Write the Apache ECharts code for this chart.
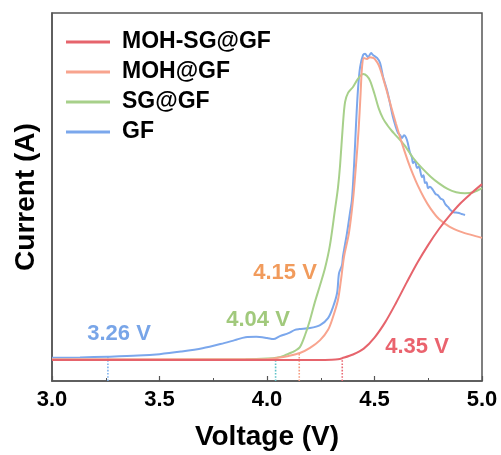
<!DOCTYPE html>
<html>
<head>
<meta charset="utf-8">
<script src="https://cdn.jsdelivr.net/npm/echarts@6/dist/echarts.min.js"></script>
<style>
  html, body { margin: 0; padding: 0; background: #fff; }
  #chart { width: 501px; height: 455px; }
</style>
</head>
<body>
<div id="chart"></div>
<script>
// Linear sweep voltammetry curves: [voltage (V), current (a.u.)]
const seriesNames = ['MOH-SG@GF', 'MOH@GF', 'SG@GF', 'GF'];

const mohSgCurve = [
  [3.00, 5.7], [3.50, 5.7], [4.00, 5.7], [4.20, 5.7], [4.30, 5.8], [4.33, 5.9],
  [4.35, 6.2], [4.40, 7.2], [4.45, 8.8], [4.50, 11.8], [4.55, 16.0], [4.60, 21.2],
  [4.65, 26.8], [4.70, 32.2], [4.75, 37.0], [4.80, 41.3], [4.85, 45.0],
  [4.90, 48.3], [4.95, 51.0], [5.00, 53.5]
];

const mohCurve = [
  [3.00, 5.9], [3.50, 5.9], [4.00, 6.0], [4.05, 6.3], [4.10, 6.8], [4.153, 7.6],
  [4.200, 9.0], [4.247, 11.1], [4.284, 13.9], [4.307, 17.4], [4.330, 22.0],
  [4.344, 27.4], [4.358, 33.7], [4.381, 40.2], [4.400, 49.2], [4.414, 58.7],
  [4.426, 68.2], [4.435, 77.7], [4.442, 85.3], [4.451, 87.8], [4.465, 87.5],
  [4.479, 88.0], [4.493, 87.8], [4.50, 87.6], [4.52, 85.8], [4.54, 82.3],
  [4.56, 78.2], [4.58, 74.0], [4.60, 69.9], [4.62, 66.0], [4.64, 62.4],
  [4.66, 59.0], [4.68, 56.0], [4.70, 53.3], [4.73, 49.8], [4.76, 46.9],
  [4.80, 44.0], [4.85, 41.9], [4.90, 40.6], [4.95, 39.7], [5.00, 38.9]
];

const sgCurve = [
  [3.00, 5.8], [3.50, 5.8], [3.90, 5.9], [4.00, 6.1], [4.05, 6.4], [4.08, 6.9],
  [4.10, 7.4], [4.13, 8.2], [4.153, 9.2], [4.177, 12.5], [4.200, 16.6],
  [4.223, 21.5], [4.247, 26.1], [4.270, 30.7], [4.293, 37.0], [4.316, 46.5],
  [4.330, 52.5], [4.340, 58.7], [4.353, 69.6], [4.363, 75.8], [4.377, 78.3],
  [4.400, 79.9], [4.423, 82.1], [4.447, 83.4], [4.465, 82.9], [4.48, 81.5],
  [4.50, 78.0], [4.52, 74.0], [4.54, 71.3], [4.56, 69.5], [4.58, 68.0],
  [4.60, 66.7], [4.64, 64.0], [4.68, 60.6], [4.72, 57.9], [4.76, 55.6],
  [4.80, 53.7], [4.84, 52.2], [4.88, 51.3], [4.92, 51.0], [4.96, 51.3],
  [5.00, 52.4]
];

const gfCurve = [
  [3.00, 6.3], [3.13, 6.4], [3.26, 6.6], [3.40, 6.9], [3.50, 7.3], [3.60, 8.0],
  [3.70, 8.9], [3.80, 10.3], [3.85, 11.1], [3.90, 11.9], [3.95, 12.0], [4.00, 11.7],
  [4.03, 11.4], [4.06, 12.2], [4.10, 13.0], [4.13, 13.9], [4.15, 14.1], [4.20, 14.4],
  [4.247, 15.2], [4.284, 17.1], [4.307, 20.1], [4.326, 23.9], [4.335, 29.3],
  [4.349, 31.5], [4.353, 33.7], [4.372, 40.2], [4.386, 45.7], [4.395, 49.2],
  [4.405, 58.7], [4.414, 69.6], [4.423, 79.1], [4.433, 85.3], [4.447, 88.6],
  [4.456, 88.9], [4.470, 88.0], [4.484, 89.1], [4.493, 88.6], [4.512, 87.8],
  [4.526, 86.4], [4.540, 82.6], [4.558, 79.1], [4.572, 75.5], [4.586, 71.7],
  [4.609, 67.4], [4.619, 66.8], [4.628, 66.0], [4.637, 66.8], [4.651, 65.5],
  [4.665, 62.0], [4.674, 60.8], [4.679, 59.2], [4.688, 59.8], [4.698, 57.9],
  [4.707, 58.3], [4.712, 57.3], [4.721, 55.4], [4.728, 55.9], [4.735, 53.8],
  [4.742, 54.0], [4.749, 52.4], [4.758, 52.8], [4.772, 51.9], [4.784, 50.8],
  [4.795, 50.5], [4.807, 49.6], [4.819, 49.2], [4.830, 48.0], [4.842, 47.3],
  [4.853, 46.5], [4.865, 45.9], [4.877, 45.8], [4.888, 45.7], [4.905, 45.4],
  [4.921, 45.1]
];

// Onset potentials and the current level where each marker meets its curve
const onsetVoltages = [3.26, 4.04, 4.15, 4.35];
const onsetCurrents = [6.6, 5.9, 7.5, 6.2];

const xTicks = [3.0, 3.5, 4.0, 4.5, 5.0];

const FONT = '"Liberation Sans", Arial, Helvetica, sans-serif';
const lineColors = {
  'MOH-SG@GF': '#e6646c',
  'MOH@GF': '#f8a48e',
  'SG@GF': '#a7d08a',
  'GF': '#7ba7ec'
};
const onsetLineColors = ['#80b2ee', '#5fc2c8', '#f59c80', '#e96a74'];
const onsetTextColors = ['#78a5e8', '#a1c97c', '#f19b5c', '#ea636e'];
// label centres in pixels
const onsetLabelPos = [[119, 334], [258, 320], [285, 273], [417, 347]];

const curves = {
  'MOH-SG@GF': mohSgCurve,
  'MOH@GF': mohCurve,
  'SG@GF': sgCurve,
  'GF': gfCurve
};

const chart = echarts.init(document.getElementById('chart'), null, { renderer: 'canvas' });

const onsetSeries = onsetVoltages.map((v, i) => ({
  type: 'line',
  name: 'onset-' + i,
  data: [[v, 0], [v, onsetCurrents[i]]],
  symbol: 'none',
  silent: true,
  lineStyle: { type: 'dotted', width: 1.6, color: onsetLineColors[i] },
  z: 1
}));

// draw order: GF underneath, MOH-SG@GF on top
const drawOrder = ['GF', 'SG@GF', 'MOH@GF', 'MOH-SG@GF'];
const curveSeries = drawOrder.map((name, i) => ({
  type: 'line',
  name: name,
  data: curves[name],
  symbol: 'none',
  showSymbol: false,
  smooth: 0.3,
  color: lineColors[name],
  lineStyle: { width: 2, color: lineColors[name] },
  z: 2 + i
}));

const option = {
  animation: false,
  backgroundColor: '#fff',
  grid: {
    left: 52, right: 19, top: 13, bottom: 74,
    containLabel: false,
    outerBoundsMode: 'none',
    show: true,
    borderColor: '#555',
    borderWidth: 1.5,
    backgroundColor: 'transparent'
  },
  legend: {
    data: seriesNames,
    orient: 'vertical',
    left: 61,
    top: 22,
    itemGap: 0,
    itemWidth: 44,
    itemHeight: 14,
    icon: 'path://M0,6 L44,6 L44,9 L0,9 Z',
    textStyle: {
      fontFamily: FONT,
      fontWeight: 'bold',
      fontSize: 23,
      color: '#000',
      lineHeight: 30,
      padding: [0, 0, 0, 7]
    }
  },
  xAxis: {
    type: 'value',
    min: 3,
    max: 5,
    interval: 0.5,
    name: 'Voltage (V)',
    nameLocation: 'middle',
    nameGap: 42,
    nameTextStyle: { fontFamily: FONT, fontWeight: 'bold', fontSize: 28, color: '#000' },
    axisLine: { show: true, lineStyle: { color: '#555', width: 1.5 } },
    axisTick: { show: true, inside: true, length: 5, lineStyle: { color: '#555', width: 1.2 } },
    minorTick: { show: true, splitNumber: 2, length: 3, lineStyle: { color: '#555', width: 1 } },
    splitLine: { show: false },
    minorSplitLine: { show: false },
    axisLabel: {
      show: true,
      margin: 8,
      fontFamily: FONT,
      fontWeight: 'bold',
      fontSize: 22,
      color: '#000',
      showMinLabel: true,
      showMaxLabel: true,
      hideOverlap: false,
      formatter: v => {
        const t = xTicks.find(k => Math.abs(k - v) < 1e-9);
        return t === undefined ? '' : t.toFixed(1);
      }
    }
  },
  yAxis: {
    type: 'value',
    min: 0,
    max: 100,
    name: 'Current (A)',
    nameLocation: 'middle',
    nameGap: 12,
    nameRotate: 90,
    nameTextStyle: { fontFamily: FONT, fontWeight: 'bold', fontSize: 28, color: '#000' },
    axisLine: { show: true, lineStyle: { color: '#555', width: 1.5 } },
    axisTick: { show: false },
    axisLabel: { show: false },
    splitLine: { show: false }
  },
  series: onsetSeries.concat(curveSeries),
  graphic: onsetVoltages.map((v, i) => ({
    type: 'text',
    x: onsetLabelPos[i][0],
    y: onsetLabelPos[i][1],
    z: 20,
    style: {
      text: v.toFixed(2) + ' V',
      fill: onsetTextColors[i],
      font: 'bold 22px ' + FONT,
      textAlign: 'center',
      textVerticalAlign: 'middle'
    }
  }))
};

chart.setOption(option);
</script>
</body>
</html>
